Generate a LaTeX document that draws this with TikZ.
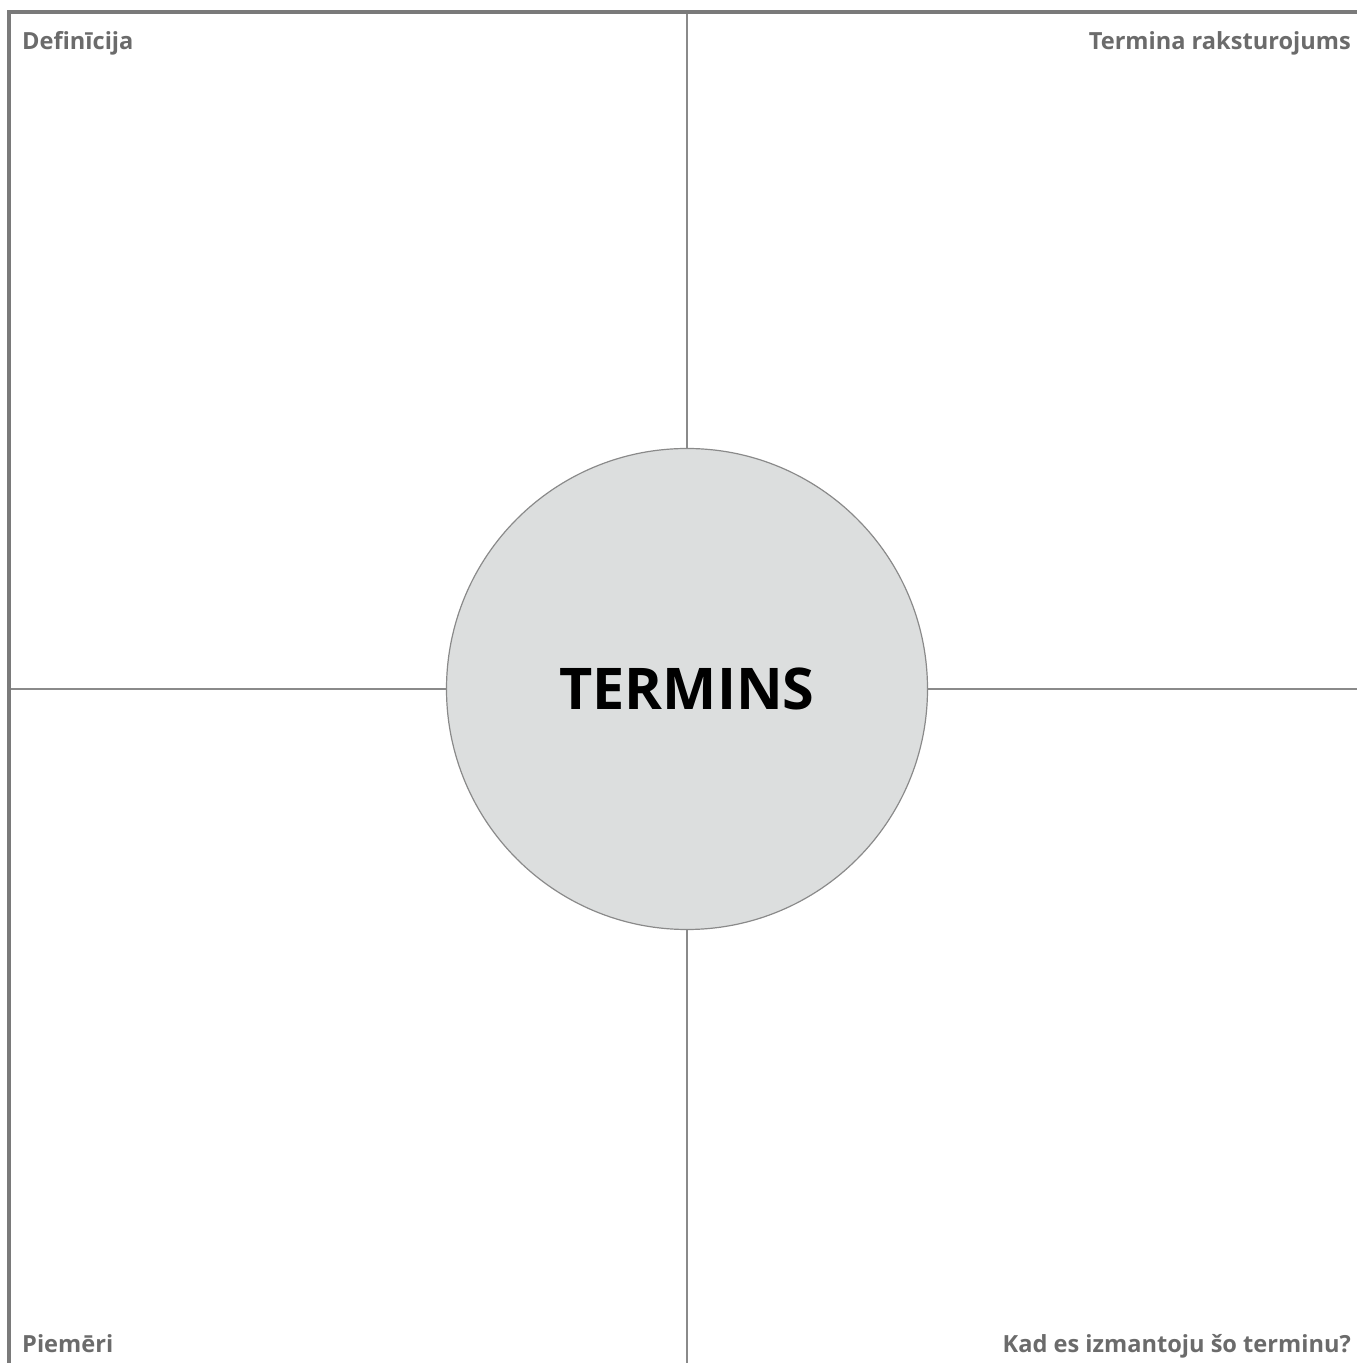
\documentclass[tikz,border=0pt]{standalone}
\usepackage{fontspec}
\setmainfont{Open Sans}
\definecolor{bordergray}{HTML}{7A7A7A}
\definecolor{linegray}{HTML}{8A8A8A}
\definecolor{labelgray}{HTML}{6B6B6B}
\definecolor{circfill}{HTML}{DCDEDE}
\begin{document}
\begin{tikzpicture}[x=1pt,y=1pt,
  border/.style={draw=bordergray,line width=4.5pt},
  divider/.style={draw=linegray,line width=1.3pt},
  label/.style={inner sep=0pt,text=labelgray,font=\fontsize{23.6}{27}\selectfont\bfseries},
  centre/.style={circle,draw=linegray,line width=1.2pt,fill=circfill,minimum size=481pt,inner sep=0pt,font=\fontsize{57.5}{66}\selectfont\bfseries}]
\useasboundingbox (0,0) rectangle (1357,1363);
\coordinate (tl) at (9,1351);
\coordinate (tr) at (1357,1351);
\coordinate (bl) at (9,0);
\coordinate (vt) at (687,1351);
\coordinate (vb) at (687,0);
\coordinate (hl) at (9,674);
\coordinate (hr) at (1357,674);
\node[centre] (term) at (687,674) {TERMINS};
\draw[divider] (vt) -- (term.north);
\draw[divider] (term.south) -- (vb);
\draw[divider] (hl) -- (term.west);
\draw[divider] (term.east) -- (hr);
\draw[border] (tr) -- (tl) -- (bl);
\node[label,anchor=base west] (def) at (22,1313) {Definīcija};
\node[label,anchor=base east] (rak) at (1351,1313) {Termina raksturojums};
\node[label,anchor=base west] (pie) at (22,10) {Piemēri};
\node[label,anchor=base east] (kad) at (1351,10) {Kad es izmantoju šo terminu?};
\end{tikzpicture}
\end{document}
